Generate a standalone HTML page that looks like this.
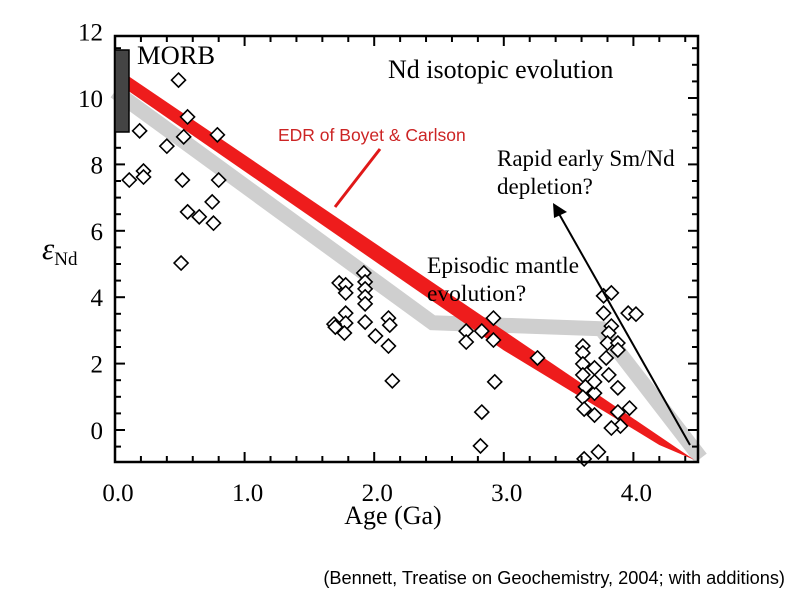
<!DOCTYPE html>
<html><head><meta charset="utf-8"><style>
html,body{margin:0;padding:0;background:#fff;}
svg{display:block;}
.t{font-family:"Liberation Serif",serif;fill:#000;}
</style></head><body>
<svg id="chart" width="800" height="600" viewBox="0 0 800 600">
<g id="bands"></g>
<g id="pts"></g>
<rect x="115" y="36" width="583" height="426" fill="none" stroke="#000" stroke-width="2.5"/>
<g id="ticks"></g>
<rect x="115" y="50" width="14" height="82" fill="#444" stroke="#000" stroke-width="1.5"/>
<text class="t" x="137" y="64" font-size="26.5">MORB</text>
<text class="t" x="388" y="78" font-size="26">Nd isotopic evolution</text>
<text x="278" y="141" font-family="Liberation Sans, sans-serif" font-size="17.5" fill="#cc2424">EDR of Boyet &amp; Carlson</text>
<line x1="380" y1="149" x2="335" y2="207" stroke="#e01818" stroke-width="3"/>
<text class="t" x="497" y="166" font-size="23">Rapid early Sm/Nd</text>
<text class="t" x="497" y="194" font-size="23">depletion?</text>
<line x1="690" y1="445" x2="558" y2="212" stroke="#000" stroke-width="2"/>
<polygon points="553,203 567,212 554,218" fill="#000"/>
<text class="t" x="427" y="273" font-size="23.5">Episodic mantle</text>
<text class="t" x="427" y="301" font-size="23.5">evolution?</text>
<text class="t" x="393" y="524" font-size="26" text-anchor="middle">Age (Ga)</text>
<text class="t" x="42" y="259" font-size="31" font-style="italic">ε<tspan font-size="19" font-style="normal" dy="6">Nd</tspan></text>
<text x="785" y="584" font-family="Liberation Sans, sans-serif" font-size="18.2" text-anchor="end" fill="#000">(Bennett, Treatise on Geochemistry, 2004; with additions)</text>
</svg>
<script>
const xTicks=[0,1,2,3,4];
const xTickLabels=["0.0","1.0","2.0","3.0","4.0"];
const yTicks=[0,2,4,6,8,10,12];
const yTickLabels=["0","2","4","6","8","10","12"];
const ages=[0.11,0.19,0.22,0.22,0.40,0.49,0.56,0.53,0.52,0.56,0.65,0.75,0.76,0.79,0.80,0.51,
1.73,1.78,1.78,1.78,1.78,1.69,1.70,1.77,1.92,1.93,1.93,1.93,1.93,1.93,2.01,2.11,2.12,2.11,2.14,
2.71,2.71,2.83,2.92,2.92,2.93,2.83,2.82,3.26,3.61,3.61,3.61,3.61,3.63,3.61,3.62,3.70,3.70,3.70,3.70,3.62,3.73,
3.77,3.83,3.77,3.83,3.81,3.80,3.88,3.88,3.79,3.81,3.88,3.88,3.90,3.83,3.97,3.96,4.02];
const epsNd=[7.53,9.01,7.80,7.62,8.55,10.54,9.43,8.83,7.53,6.57,6.42,6.87,6.23,8.89,7.53,5.03,
4.43,4.37,4.13,3.52,3.22,3.19,3.10,2.92,4.73,4.46,4.25,4.01,3.80,3.25,2.83,3.37,3.16,2.53,1.48,
2.98,2.65,2.98,3.37,2.71,1.45,0.54,-0.48,2.17,2.53,2.32,1.99,1.66,1.30,0.99,0.63,0.45,1.11,1.45,1.87,-0.87,-0.66,
4.04,4.13,3.52,3.13,2.92,2.62,2.62,2.41,2.17,1.66,1.27,0.54,0.12,0.06,0.66,3.52,3.49];
const edrTopAge=[0.07,4.47];
const edrTopEps=[10.75,-0.9];
const edrBotAge=[4.47,4.2,3.0,0.07];
const edrBotEps=[-0.9,-0.45,2.4,10.3];
const grayAge=[0.0,2.45,3.75,4.52];
const grayEps=[10.2,3.23,3.05,-0.85];

function X(v){return 115+v*129.6;}
function Y(v){return 430-v*33.2;}
const NS="http://www.w3.org/2000/svg";
function mk(tag,attrs,parent){const e=document.createElementNS(NS,tag);for(const k in attrs)e.setAttribute(k,attrs[k]);parent.appendChild(e);return e;}

const bands=document.getElementById('bands');
let gp=grayAge.map((a,i)=>X(a)+','+Y(grayEps[i])).join(' ');
const g=mk('polyline',{points:gp,fill:'none',stroke:'#cfcfcf','stroke-width':15,'stroke-linejoin':'miter'},bands);


let rp=edrTopAge.map((a,i)=>X(a)+','+Y(edrTopEps[i])).concat(edrBotAge.map((a,i)=>X(a)+','+Y(edrBotEps[i]))).join(' ');
const r=mk('polygon',{points:rp,fill:'#ee1c1c'},bands);



const pts=document.getElementById('pts');
ages.forEach((a,i)=>{const cx=X(a),cy=Y(epsNd[i]),s=7;
 const d=mk('polygon',{points:`${cx},${cy-s} ${cx+s},${cy} ${cx},${cy+s} ${cx-s},${cy}`,fill:'#fff',stroke:'#000','stroke-width':1.6},pts);
 
 
});

const tk=document.getElementById('ticks');
for(let v=0;v<=4.5001;v+=0.2){const x=X(v);const major=Math.abs(v-Math.round(v))<1e-6;const L=major?10:6;
 mk('line',{x1:x,y1:462,x2:x,y2:462-L,stroke:'#000','stroke-width':2},tk);
 mk('line',{x1:x,y1:36,x2:x,y2:36+L,stroke:'#000','stroke-width':2},tk);}
for(let v=-0.5;v<=11.6;v+=0.5){const y=Y(v);const major=Math.abs(v/2-Math.round(v/2))<1e-6;const L=major?10:6;
 mk('line',{x1:115,y1:y,x2:115+L,y2:y,stroke:'#000','stroke-width':2},tk);
 mk('line',{x1:698,y1:y,x2:698-L,y2:y,stroke:'#000','stroke-width':2},tk);}
xTicks.forEach((v,i)=>{const t=mk('text',{x:X(v)+3,y:501,'font-size':25,'text-anchor':'middle',class:'t'},tk);t.textContent=xTickLabels[i];
 
 });
yTicks.forEach((v,i)=>{const t=mk('text',{x:103,y:Y(v)+9,'font-size':25,'text-anchor':'end',class:'t'},tk);t.textContent=yTickLabels[i];
 
 });
</script>
</body></html>
